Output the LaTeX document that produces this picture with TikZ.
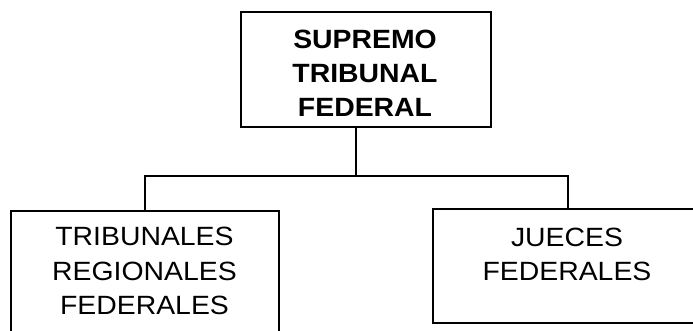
\documentclass[tikz,border=0pt]{standalone}
\usepackage{fontspec}
\setmainfont{Liberation Sans}[FakeStretch=1.075]
\begin{document}
\begin{tikzpicture}[x=1pt,y=1pt,
  box/.style={draw=black, line width=1.5pt, rectangle, inner sep=0pt, fill=none},
  conn/.style={draw=black, line width=1.5pt},
  lbl/.style={align=center, inner sep=0pt, font=\fontsize{26.4pt}{34.3pt}\selectfont}]
\useasboundingbox (0,0) rectangle (693,331);
\clip (0,0) rectangle (693,331);
\node[box, minimum width=250pt, minimum height=115pt] (stf) at (366,261.5) {};
\node[box, minimum width=268pt, minimum height=140pt] (trf) at (145,50) {};
\node[box, minimum width=310pt, minimum height=114pt] (jf) at (588,65) {};
\node[lbl, font=\fontsize{26.4pt}{34.3pt}\selectfont\bfseries] (tstf) at (365,257.7) {SUPREMO\\TRIBUNAL\\FEDERAL};
\node[lbl] (ttrf) at (144.5,59.8) {TRIBUNALES\\REGIONALES\\FEDERALES};
\node[lbl] (tjf) at (567,76.7) {JUECES\\FEDERALES};
\coordinate (j) at (356,155);
\coordinate (jr) at (568,155);
\draw[conn] (stf.south -| j) -- (j);
\draw[conn] (trf.north) |- (jr) -- (jf.north -| jr);
\end{tikzpicture}
\end{document}
